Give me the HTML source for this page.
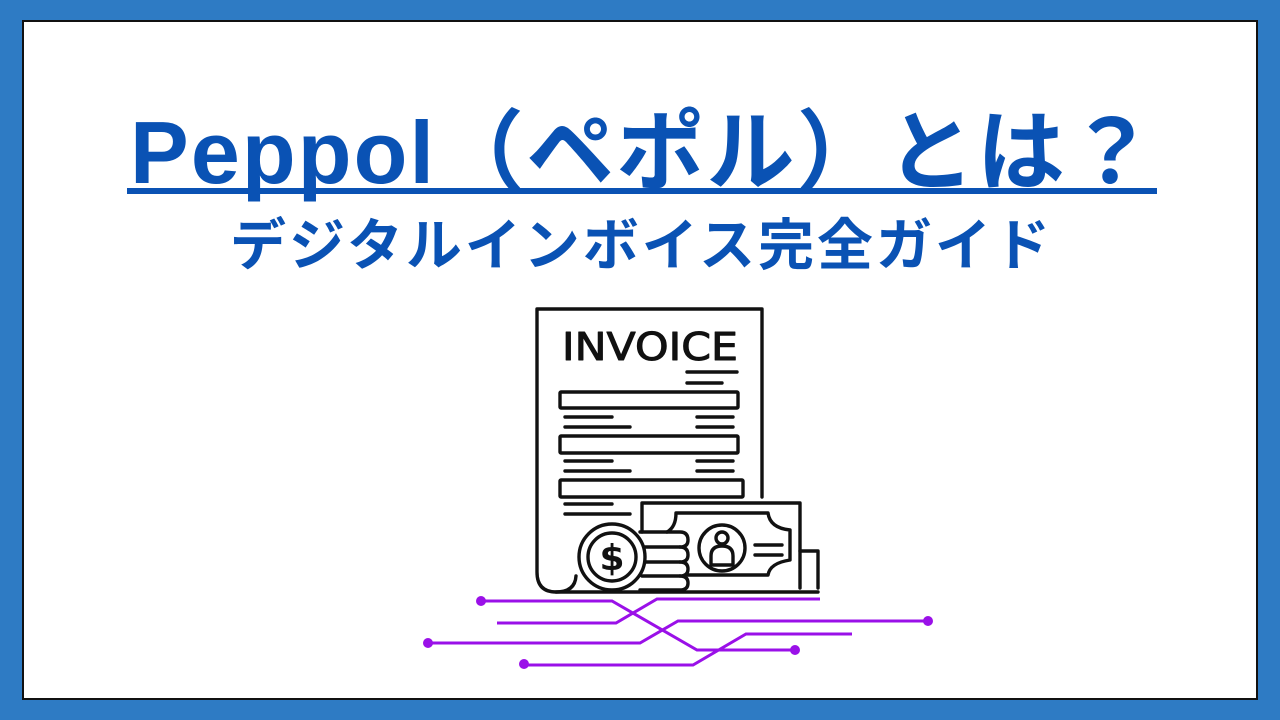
<!DOCTYPE html>
<html><head><meta charset="utf-8"><style>
html,body{margin:0;padding:0;width:1280px;height:720px;overflow:hidden;background:#2e7bc4}
svg{display:block}
</style></head><body>
<svg width="1280" height="720" viewBox="0 0 1280 720" xmlns="http://www.w3.org/2000/svg">
<rect x="0" y="0" width="1280" height="720" fill="#2e7bc4"/>
<rect x="23" y="21" width="1234" height="678" fill="#fff" stroke="#111" stroke-width="2"/>
<text x="130" y="183" font-family="Liberation Sans, Noto Sans CJK JP, sans-serif" font-weight="bold" font-size="88" fill="#0a52b4" textLength="1025" lengthAdjust="spacing">Peppol（ペポル）とは？</text>
<rect x="127" y="188" width="1030" height="6" fill="#0a52b4"/>
<text x="230" y="265" font-family="Liberation Sans, Noto Sans CJK JP, sans-serif" font-weight="bold" font-size="56" fill="#0a52b4" textLength="820" lengthAdjust="spacing">デジタルインボイス完全ガイド</text>

<g fill="none" stroke="#111" stroke-width="3.4" stroke-linecap="round" stroke-linejoin="round">
<path d="M762 497 V309 H537 V572 Q537 592 556 592 Q575 592 576 576"/>
<path d="M556 592 H818"/>
<text x="562" y="360" font-family="DejaVu Sans, sans-serif" font-size="38" fill="#111" stroke="#111" stroke-width="1" textLength="176" lengthAdjust="spacingAndGlyphs">INVOICE</text>
<path d="M687 372 H737 M687 383 H722"/>
<rect x="560" y="392" width="178" height="16" rx="1"/>
<path d="M565 417 H612 M565 427 H630 M697 417 H733 M697 427 H733"/>
<rect x="560" y="436" width="178" height="17" rx="1"/>
<path d="M565 461 H612 M565 471 H630 M697 461 H733 M697 471 H733"/>
<rect x="560" y="480" width="183" height="17" rx="1"/>
<path d="M565 504 H612 M565 514 H630"/>
<path d="M642 532 V503 H800 V588"/>
<path d="M800 551 H818 V588"/>
<path d="M667 532 Q676 527 676 513 H768 Q770 528 790 530 V560 Q770 563 768 575 H688"/>
<circle cx="722" cy="548" r="23"/>
<path d="M711 565 V556 Q711 546 722 546 Q733 546 733 556 V565 Z"/>
<circle cx="722" cy="538" r="6"/>
<path d="M755 545 H782 M755 555 H782"/>
<path d="M640 532 H680 Q688 532 688 540 Q688 547 680 547 Q688 547 688 555 Q688 562 680 562 Q688 562 688 569 Q688 576 680 576 Q688 576 688 583 Q688 590 680 590 H640"/>
<path d="M642 547 H680 M642 562 H680 M642 576 H680"/>
<circle cx="612" cy="557" r="33" fill="#fff"/>
<circle cx="612" cy="557" r="24"/>
<text x="612" y="570" text-anchor="middle" font-family="DejaVu Sans, sans-serif" font-size="36" font-weight="bold" fill="#111" stroke="none">$</text>
</g>

<g fill="none" stroke="#9a10e8" stroke-width="3">
<polyline points="481,601 612,601 697,650 795,650"/>
<polyline points="497,623 616,623 657,599 820,599"/>
<polyline points="928,621 678,621 640,643 428,643"/>
<polyline points="852,634 746,634 693,665 524,665"/>
</g>
<g fill="#9a10e8">
<circle cx="481" cy="601" r="5"/>
<circle cx="795" cy="650" r="5"/>
<circle cx="928" cy="621" r="5"/>
<circle cx="428" cy="643" r="5"/>
<circle cx="524" cy="664" r="5"/>
</g>
</svg>
</body></html>
